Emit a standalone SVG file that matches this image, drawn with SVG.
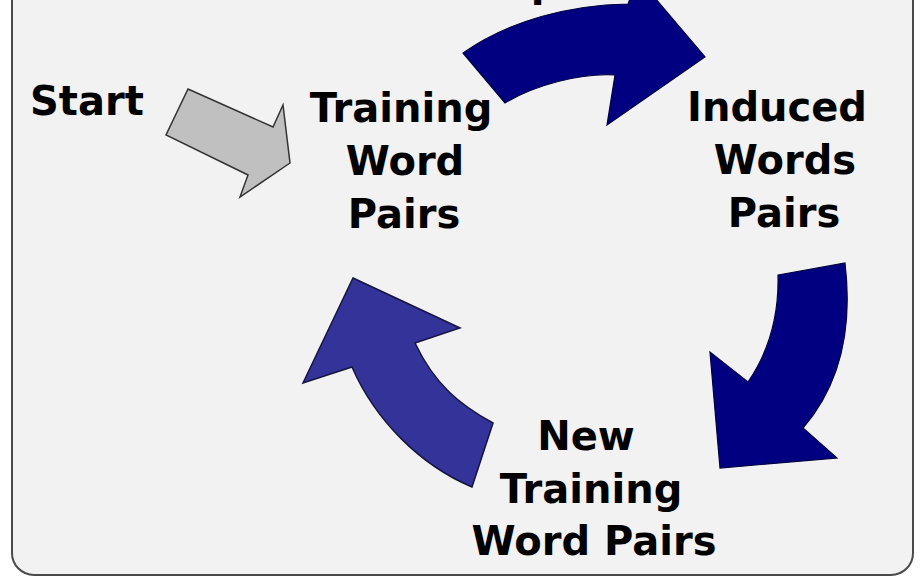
<svg xmlns="http://www.w3.org/2000/svg" width="921" height="579" viewBox="0 0 921 579">
<style>
.lbl{font-family:"DejaVu Sans","Verdana",sans-serif;font-weight:bold;font-size:40px;fill:#000;text-anchor:middle}
.start{text-anchor:start}
.navy{fill:#000080;stroke:#000040;stroke-width:1.2}
.mid{fill:#333399;stroke:#15153f;stroke-width:1.5}
.grey{fill:#c0c0c0;stroke:#333;stroke-width:1.5}
</style>
<rect x="12" y="-40" width="901" height="615" rx="22" ry="22" fill="#f2f2f2" stroke="#4a4a4a" stroke-width="2"/>
<text class="lbl" x="545" y="-4">p</text>
<g id="connectors">
<polygon id="start-arrow" class="grey" points="188,89 273,127 283,105 290,163 240,197 248,175 166,135"/>
<path id="arrow-top" class="navy" d="M463,53 C510,20 570,5 628,4 L638,-22 L705,57 L607,125 L615,75 C580,73 535,85 505,103 Z"/>
<path id="arrow-right" class="navy" d="M778,275 L845,263 C853,330 840,385 803,428 L837,458 L720,468 L710,352 L748,382 C770,350 779,315 778,275 Z"/>
<path id="arrow-left" class="mid" d="M353,278 L460,328 L415,343 C435,385 460,405 493,423 L472,487 C420,465 375,420 352,367 L303,383 Z"/>
</g>
<g id="node-start"><text class="lbl start" x="30" y="115">Start</text></g>
<g id="node-training">
<text class="lbl" x="401" y="122">Training</text>
<text class="lbl" x="405" y="175">Word</text>
<text class="lbl" x="404" y="228">Pairs</text>
</g>
<g id="node-induced">
<text class="lbl" x="777" y="121">Induced</text>
<text class="lbl" x="785" y="174">Words</text>
<text class="lbl" x="784" y="227">Pairs</text>
</g>
<g id="node-new">
<text class="lbl" x="586" y="450">New</text>
<text class="lbl" x="591" y="503">Training</text>
<text class="lbl" x="594" y="555">Word Pairs</text>
</g>
</svg>
